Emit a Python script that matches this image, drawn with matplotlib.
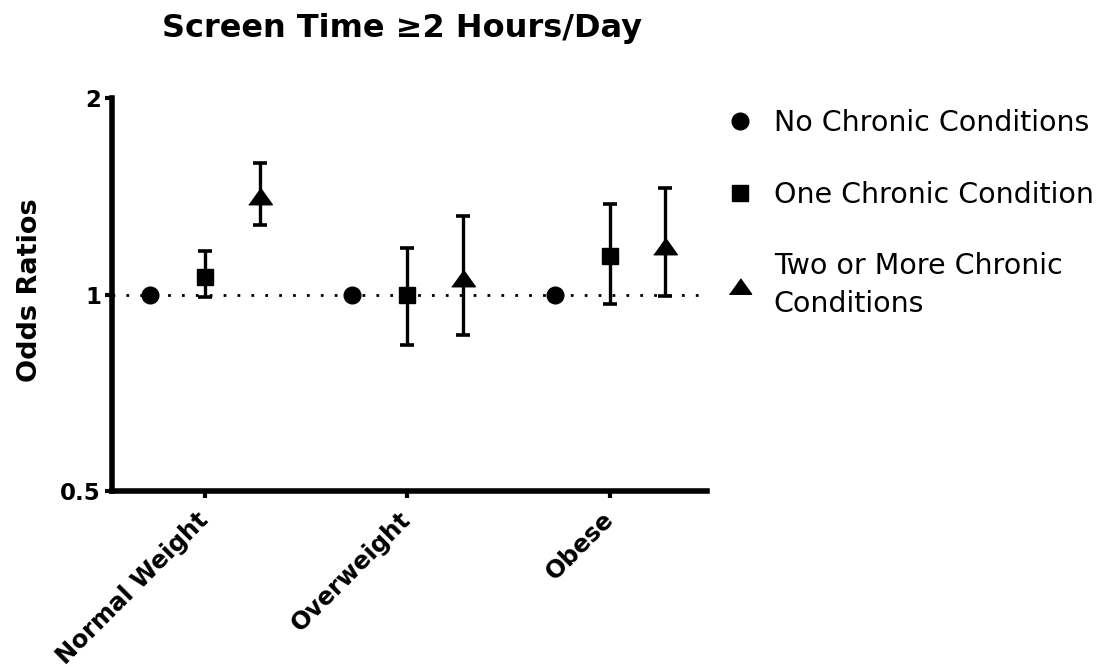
import matplotlib
matplotlib.use("Agg")
import matplotlib.pyplot as plt
from matplotlib.lines import Line2D
import numpy as np

plt.rcParams['font.family'] = ['DejaVu Sans']

groups = ["Normal Weight", "Overweight", "Obese"]
seriesNames = ["No Chronic Conditions", "One Chronic Condition", "Two or More Chronic\nConditions"]

orNone = [1.0, 1.0, 1.0]

orOne = [1.065, 0.997, 1.146]
loOne = [0.991, 0.836, 0.968]
hiOne = [1.167, 1.177, 1.376]

orTwo = [1.417, 1.060, 1.188]
loTwo = [1.278, 0.868, 0.993]
hiTwo = [1.593, 1.317, 1.456]

yTicks = [0.5, 1, 2]
yTickLabels = ["0.5", "1", "2"]

fig = plt.figure(figsize=(11.17, 6.67), dpi=100)
ax = fig.add_axes([112/1117, 1-491/667, (707-112)/1117, (491-98)/667])

x = np.arange(len(groups))
off = 0.272
triVerts = [(-1, -0.7), (1, -0.7), (0, 0.7)]

ax.axhline(1, color="black", lw=2, ls=(0, (1, 4)), zorder=1)

ax.plot(x - off, orNone, ls="none", marker="o", ms=12, color="black", zorder=3)
ax.errorbar(x, orOne, yerr=[np.array(orOne) - np.array(loOne), np.array(hiOne) - np.array(orOne)],
            fmt="s", ms=12, color="black", elinewidth=2.4, capsize=5, capthick=2.6, zorder=3)
ax.errorbar(x + off, orTwo, yerr=[np.array(orTwo) - np.array(loTwo), np.array(hiTwo) - np.array(orTwo)],
            fmt="none", color="black", elinewidth=2.4, capsize=5, capthick=2.6, zorder=3)
ax.plot(x + off, orTwo, ls="none", marker=triVerts, ms=17, color="black", zorder=4)

ax.set_yscale("log", base=2)
ax.set_ylim(0.5, 2)
ax.set_xlim(-0.459, 2.479)
ax.set_yticks(yTicks)
ax.set_yticklabels(yTickLabels, fontsize=16.5, fontweight="bold")
ax.yaxis.set_minor_locator(matplotlib.ticker.NullLocator())
ax.set_xticks(x)
ax.set_xticklabels(groups, fontsize=17.5, fontweight="bold", rotation=45,
                   ha="right", va="center", rotation_mode="anchor")

for side in ["top", "right"]:
    ax.spines[side].set_visible(False)
for side in ["left", "bottom"]:
    ax.spines[side].set_linewidth(4)
ax.tick_params(axis="both", width=3, length=5, direction="out")
ax.tick_params(axis="x", pad=13)
ax.tick_params(axis="y", pad=3)

fig.text(402/1117, 1-28/667, "Screen Time \u22652 Hours/Day", fontsize=23, fontweight="bold",
         ha="center", va="center")
fig.text(30/1117, 1-290/667, "Odds Ratios", fontsize=19.5, fontweight="bold",
         rotation=90, ha="center", va="center")

handles = [Line2D([], [], ls="none", marker="o", ms=12, color="black"),
           Line2D([], [], ls="none", marker="s", ms=11, color="black"),
           Line2D([], [], ls="none", marker=triVerts, ms=16, color="black")]
leg = fig.legend(handles, seriesNames, loc="upper left", bbox_to_anchor=(729/1117, 1-109/667),
                 bbox_transform=fig.transFigure, frameon=False, fontsize=20.5,
                 handlelength=0.8, handletextpad=0.77, labelspacing=1.53,
                 borderpad=0, borderaxespad=0)
for t in leg.get_texts():
    t.set_linespacing(1.45)

fig.savefig("out.png", dpi=100)
